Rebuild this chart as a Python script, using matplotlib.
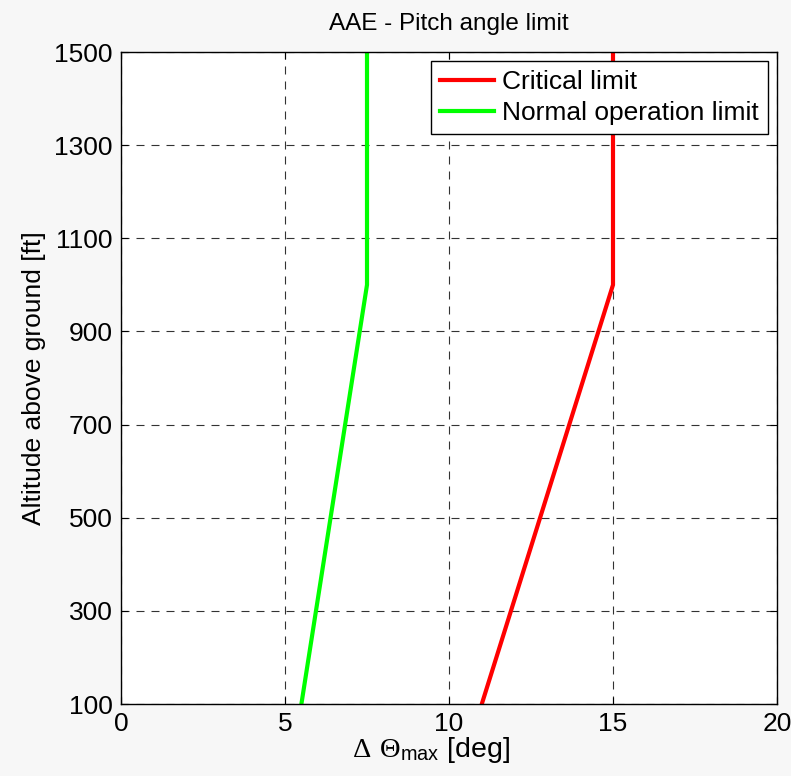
import matplotlib
matplotlib.use("Agg")
import matplotlib.pyplot as plt

altitude_ft = [100, 1000, 1500]
critical_deg = [11.0, 15.0, 15.0]
normal_deg = [5.5, 7.5, 7.5]
x_ticks = [0, 5, 10, 15, 20]
y_ticks = [100, 300, 500, 700, 900, 1100, 1300, 1500]

plt.rcParams['font.family'] = ['Liberation Sans', 'DejaVu Sans']
plt.rcParams['mathtext.fontset'] = 'custom'
plt.rcParams['mathtext.rm'] = 'Liberation Serif'
plt.rcParams['mathtext.it'] = 'Liberation Serif:italic'
plt.rcParams['mathtext.sf'] = 'Liberation Sans'

fig = plt.figure(figsize=(7.91, 7.76), dpi=100, facecolor='#f7f7f7')
ax = fig.add_axes([121/791, 1-704/776, (777-121)/791, (704-52)/776])
ax.set_facecolor('white')

ax.plot(critical_deg, altitude_ft, color='#ff0000', lw=3.0, label='Critical limit', solid_joinstyle='miter')
ax.plot(normal_deg, altitude_ft, color='#00ff00', lw=3.0, label='Normal operation limit', solid_joinstyle='miter')

ax.set_xlim(0, 20)
ax.set_ylim(100, 1500)
ax.set_xticks(x_ticks)
ax.set_yticks(y_ticks)
ax.tick_params(direction='in', top=True, right=True, labelsize=19, length=5, width=0.8, pad=6)
ax.grid(True, color='#333333', linestyle=(0, (7.2, 6.3)), linewidth=0.8)
for s in ax.spines.values():
    s.set_linewidth(1.0)

ax.set_title('AAE - Pitch angle limit', fontsize=17.5, pad=16)
ax.set_ylabel('Altitude above ground [ft]', fontsize=19, labelpad=6)
ax.set_xlabel(r'$\Delta\;\,\Theta_{\mathsf{max}}$ [deg]', fontsize=20.5)
ax.xaxis.set_label_coords(0.473, -0.048, transform=ax.transAxes)
ax.xaxis.label.set_verticalalignment('top')

leg = ax.legend(loc='upper right', fontsize=19, frameon=True, fancybox=False,
                edgecolor='black', framealpha=1, handlelength=2.05,
                borderaxespad=0.34, borderpad=0.35, labelspacing=0.25, handletextpad=0.3)
leg.get_frame().set_linewidth(1.0)

fig.savefig('out.png', dpi=100, facecolor=fig.get_facecolor())
